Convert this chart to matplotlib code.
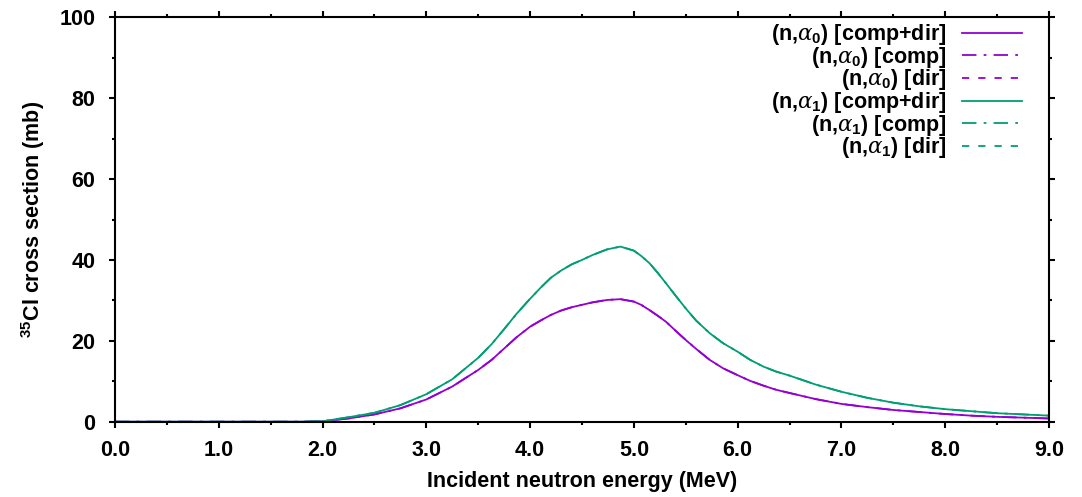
import matplotlib
matplotlib.use("Agg")
import matplotlib.pyplot as plt
from matplotlib.ticker import MultipleLocator, FormatStrFormatter

plt.rcParams['font.family'] = ['Liberation Sans', 'DejaVu Sans']
plt.rcParams['font.weight'] = 'bold'
plt.rcParams['mathtext.fontset'] = 'custom'
plt.rcParams['mathtext.rm'] = 'Liberation Sans:weight=bold'
plt.rcParams['mathtext.it'] = 'DejaVu Serif:style=italic:weight=normal'

# incident neutron energy (MeV)
energy = [0.0, 1.0, 1.8, 2.0, 2.25, 2.5, 2.75, 3.0, 3.25, 3.5,
          3.63, 3.75, 3.87, 4.0, 4.1, 4.2, 4.3, 4.4, 4.5, 4.6,
          4.74, 4.87, 5.0, 5.07, 5.15, 5.23, 5.31, 5.41, 5.5, 5.6,
          5.73, 5.86, 6.0, 6.12, 6.25, 6.37, 6.5, 6.75, 7.0, 7.25,
          7.5, 7.75, 8.0, 8.25, 8.5, 8.75, 9.0]

# (n,alpha0) cross sections (mb)
a0_comp = [0.0, 0.0, 0.0, 0.1, 0.8, 1.8, 3.3, 5.5, 8.7, 12.8,
           15.3, 18.1, 20.9, 23.5, 25.0, 26.4, 27.5, 28.3, 28.9, 29.5,
           30.1, 30.3, 29.7, 28.9, 27.6, 26.2, 24.7, 22.3, 20.2, 18.0,
           15.3, 13.2, 11.5, 10.1, 8.9, 7.9, 7.1, 5.6, 4.4, 3.6,
           2.9, 2.4, 1.9, 1.5, 1.2, 1.0, 0.8]
a0_dir = [0.0] * len(energy)
a0_total = [c + d for c, d in zip(a0_comp, a0_dir)]

# (n,alpha1) cross sections (mb)
a1_comp = [0.0, 0.0, 0.0, 0.1, 1.1, 2.2, 4.1, 6.8, 10.5, 15.8,
           19.2, 22.9, 26.7, 30.4, 33.1, 35.6, 37.4, 38.9, 40.0, 41.2,
           42.6, 43.3, 42.3, 41.0, 39.2, 36.8, 34.2, 30.9, 28.0, 25.0,
           21.9, 19.4, 17.3, 15.3, 13.6, 12.4, 11.4, 9.2, 7.4, 5.9,
           4.7, 3.8, 3.1, 2.6, 2.1, 1.8, 1.5]
a1_dir = [0.0] * len(energy)
a1_total = [c + d for c, d in zip(a1_comp, a1_dir)]

purple = '#9400d3'
green = '#009e73'
fs = 15.5

fig = plt.figure(figsize=(10.82, 4.97), dpi=100)
ax = fig.add_axes([115 / 1082, 1 - 421.7 / 497, (1049 - 115) / 1082, (421.7 - 17.3) / 497])

lw = 1.3
dashdot = (0, (8, 4, 1.5, 4))
dashed = (0, (4, 5))
ax.plot(energy, a0_total, color=purple, lw=lw, label=r'(n,$\alpha_0$) [comp+dir]')
ax.plot(energy, a0_comp, color=purple, lw=lw, ls=dashdot, label=r'(n,$\alpha_0$) [comp]')
ax.plot(energy, a0_dir, color=purple, lw=lw, ls=dashed, label=r'(n,$\alpha_0$) [dir]', zorder=1)
ax.plot(energy, a1_total, color=green, lw=lw, label=r'(n,$\alpha_1$) [comp+dir]')
ax.plot(energy, a1_comp, color=green, lw=lw, ls=dashdot, label=r'(n,$\alpha_1$) [comp]')
ax.plot(energy, a1_dir, color=green, lw=lw, ls=dashed, label=r'(n,$\alpha_1$) [dir]', zorder=1)

ax.set_xlim(0, 9)
ax.set_ylim(0, 100)
ax.xaxis.set_major_locator(MultipleLocator(1))
ax.xaxis.set_minor_locator(MultipleLocator(0.5))
ax.xaxis.set_major_formatter(FormatStrFormatter('%.1f'))
ax.yaxis.set_major_locator(MultipleLocator(20))
ax.yaxis.set_minor_locator(MultipleLocator(10))

for s in ax.spines.values():
    s.set_linewidth(1.5)
    s.set_zorder(5)
ax.tick_params(which='both', direction='out', top=True, right=True, width=1.5, labelsize=fs)
ax.tick_params(which='major', length=4.5)
ax.tick_params(which='minor', length=2.5)
ax.tick_params(axis='x', which='major', pad=9)
ax.tick_params(axis='y', which='major', pad=9.5)

ax.set_xlabel('Incident neutron energy (MeV)', fontsize=fs, fontweight='bold', labelpad=7)
ax.set_ylabel(r'$^{35}$Cl cross section (mb)', fontsize=fs, fontweight='bold', labelpad=9)

leg = ax.legend(loc='upper right', frameon=False, markerfirst=False, fontsize=fs,
                handlelength=2.8, handletextpad=0.7, labelspacing=-0.11,
                borderpad=0.0, borderaxespad=0.0, bbox_to_anchor=(0.971, 0.988))

fig.savefig('out.png', dpi=100)
